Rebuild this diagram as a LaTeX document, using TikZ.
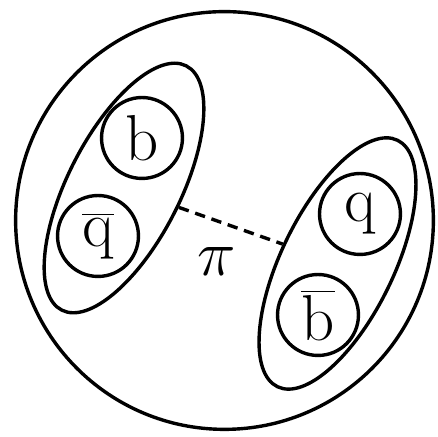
\documentclass[tikz,border=0pt]{standalone}
\usetikzlibrary{shapes.geometric}
\begin{document}
\begin{tikzpicture}[x=0.383pt,y=-0.383pt,line width=1.3pt,font=\Huge,
    quark/.style={draw,circle,minimum size=31pt,inner sep=0pt},
    hadron/.style={draw,ellipse,minimum width=105pt,minimum height=43pt,inner sep=0pt},
    pion/.style={dashed,dash pattern=on 4pt off 2.6pt}]
  \useasboundingbox (0,0) rectangle (438,437);
  % whole system
  \node[draw,circle,minimum size=160pt,inner sep=0pt] (bag) at (224.5,220.5) {};
  % left meson
  \node[hadron,rotate=63] (lh) at (124,188) {};
  \node[quark] (b) at (142,138) {b};
  \node[quark] (qbar) at (98,236) {$\overline{\mathrm{q}}$};
  % right meson
  \node[hadron,rotate=64] (rh) at (337.5,263.5) {};
  \node[quark] (q) at (360,214) {q};
  \node[quark] (bbar) at (318,315) {$\overline{\mathrm{b}}$};
  % exchange
  \draw[pion] (lh) -- (rh);
  \node (pi) at (217,262) {$\pi$};
\end{tikzpicture}
\end{document}
